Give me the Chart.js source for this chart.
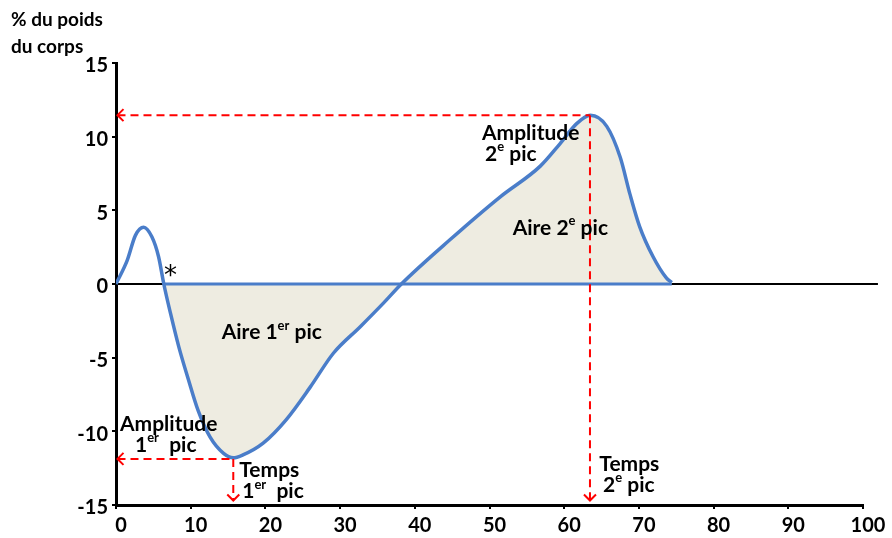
<!DOCTYPE html>
<html>
<head>
<meta charset="utf-8">
<script src="https://cdn.jsdelivr.net/npm/chart.js@4"></script>
<style>
  html, body { margin: 0; padding: 0; background: #ffffff; }
  #wrap { width: 892px; height: 538px; }
</style>
</head>
<body>
<div id="wrap"><canvas id="c" width="892" height="538"></canvas></div>
<script>
// ---- data ----
const curveX = [0, 1.5, 2.6, 3.7, 4.8, 5.7, 6.4, 7.3, 8.4, 9.7, 11.0, 12.6, 14.4, 15.7, 17.0, 19.7, 22.8, 26.0, 29.1, 32.7, 35.8, 38.2, 44.7, 51.4, 56.8, 59.4, 61.7, 63.5, 65.7, 67.5, 68.8, 70.1, 71.9, 73.7, 74.4];
const curveY = [0, 1.6, 3.3, 3.85, 3.2, 1.85, 0, -2.0, -4.25, -6.5, -8.6, -10.4, -11.5, -11.8, -11.6, -10.8, -9.2, -7.0, -4.7, -2.9, -1.3, 0, 3.0, 5.9, 8.0, 9.5, 10.9, 11.45, 10.7, 8.6, 6.1, 3.9, 1.85, 0.4, 0.1];
const areaStart = 6.4;            // end of first (unfilled) bump
const areaEnd = 74.4;             // end of signal
const peakTimes = [15.7, 63.45];  // time of 1st / 2nd peak
const peakAmps = [-11.87, 11.46]; // amplitude of 1st / 2nd peak
const xTicks = [0, 10, 20, 30, 40, 50, 60, 70, 80, 90, 100];
const yTicks = [-15, -10, -5, 0, 5, 10, 15];
const yTitle = ['% du poids', 'du corps'];
const labels = [
  { lines: [[['Aire 1', ''], ['er', 'sup'], [' pic', '']]] },
  { lines: [[['Amplitude', '']], [['1', ''], ['er', 'sup'], ['  pic', '']]] },
  { lines: [[['Temps', '']], [['1', ''], ['er', 'sup'], ['  pic', '']]] },
  { lines: [[['Amplitude', '']], [['2', ''], ['e', 'sup'], [' pic', '']]] },
  { lines: [[['Aire 2', ''], ['e', 'sup'], [' pic', '']]] },
  { lines: [[['Temps', '']], [['2', ''], ['e', 'sup'], [' pic', '']]] }
];

// ---- derived datasets ----
const curvePts = curveX.map((x, i) => ({ x: x, y: curveY[i] }));
const areaPts = curvePts.filter(p => p.x >= areaStart);

// label anchor positions (data coords: left x, first-line centre y, 2nd-line indent) — layout only
const labelPos = [
  [14.15, -3.3, 0],
  [0.54, -9.5, 2.0],
  [16.5, -12.65, 0.4],
  [49.0, 10.25, 0.4],
  [53.1, 3.8, 0],
  [64.7, -12.2, 0.5]
];

const FONT = 'Lato, "Open Sans", sans-serif';
const RED = '#ff0000';
const BLUE = '#4a7dc9';

function drawRich(ctx, parts, x, y, size) {
  let cx = x;
  parts.forEach(([t, kind]) => {
    if (kind === 'sup') {
      ctx.font = 'bold ' + Math.round(size * 0.62) + 'px ' + FONT;
      ctx.fillText(t, cx, y - size * 0.33);
    } else {
      ctx.font = 'bold ' + size + 'px ' + FONT;
      ctx.fillText(t, cx, y);
    }
    cx += ctx.measureText(t).width;
  });
}

const overlay = {
  id: 'overlay',
  beforeDatasetsDraw(chart) {
    const { ctx, scales: { x, y } } = chart;
    ctx.save();
    ctx.strokeStyle = '#000';
    ctx.lineWidth = 2;
    ctx.beginPath();
    ctx.moveTo(x.getPixelForValue(0), y.getPixelForValue(0));
    ctx.lineTo(x.getPixelForValue(102), y.getPixelForValue(0));
    ctx.stroke();
    ctx.restore();
  },
  afterDatasetsDraw(chart) {
    const { ctx, scales: { x, y } } = chart;
    ctx.save();
    ctx.strokeStyle = RED;
    ctx.lineWidth = 2;
    const s = 6;
    peakAmps.forEach(a => {
      const px = x.getPixelForValue(0.2), py = y.getPixelForValue(a);
      ctx.beginPath();
      ctx.moveTo(px + s, py - s); ctx.lineTo(px, py); ctx.lineTo(px + s, py + s);
      ctx.stroke();
    });
    peakTimes.forEach(t => {
      const px = x.getPixelForValue(t), py = y.getPixelForValue(-14.7);
      ctx.beginPath();
      ctx.moveTo(px - s, py - s); ctx.lineTo(px, py); ctx.lineTo(px + s, py - s);
      ctx.stroke();
    });
    ctx.fillStyle = '#000';
    ctx.textBaseline = 'middle';
    ctx.textAlign = 'left';
    const size = 21;
    labels.forEach((lab, i) => {
      const [lx, ly, indent] = labelPos[i];
      const px = x.getPixelForValue(lx);
      const py = y.getPixelForValue(ly);
      lab.lines.forEach((parts, j) => {
        drawRich(ctx, parts, px + (j > 0 ? indent * 7.47 : 0), py + j * 21, size);
      });
    });
    // asterisk
    ctx.font = '26px "DejaVu Sans", sans-serif';
    ctx.textAlign = 'center';
    ctx.textBaseline = 'alphabetic';
    ctx.fillText('*', x.getPixelForValue(7.3), y.getPixelForValue(0.83) + 12);
    // y title
    ctx.font = 'bold 19px ' + FONT;
    ctx.textAlign = 'left';
    ctx.textBaseline = 'middle';
    ctx.fillText(yTitle[0], 11, 20);
    ctx.fillText(yTitle[1], 11, 47);
    ctx.restore();
  }
};

new Chart(document.getElementById('c'), {
  type: 'line',
  data: {
    datasets: [
      ...peakTimes.map((t, i) => ({
        data: [{ x: 0.2, y: peakAmps[i] }, { x: t, y: peakAmps[i] }],
        borderColor: RED, borderWidth: 2, borderDash: [8, 5], pointRadius: 0, fill: false, order: 0
      })),
      ...peakTimes.map((t, i) => ({
        data: [{ x: t, y: peakAmps[i] }, { x: t, y: -14.7 }],
        borderColor: RED, borderWidth: 2, borderDash: [8, 5], pointRadius: 0, fill: false, order: 0
      })),
      {
        data: curvePts, borderColor: BLUE, borderWidth: 3.5, pointRadius: 0,
        cubicInterpolationMode: 'monotone', fill: false, order: 1
      },
      {
        data: [{ x: areaStart, y: 0 }, { x: areaEnd, y: 0 }], borderColor: BLUE, borderWidth: 3,
        pointRadius: 0, fill: false, order: 2
      },
      {
        data: areaPts, borderColor: 'rgba(0,0,0,0)', borderWidth: 0, pointRadius: 0,
        cubicInterpolationMode: 'monotone', fill: 'origin', backgroundColor: '#eeece1', order: 3
      }
    ]
  },
  options: {
    responsive: false,
    animation: false,
    layout: { padding: { top: 63, right: 29, left: 0, bottom: 0 } },
    plugins: { legend: { display: false }, tooltip: { enabled: false } },
    scales: {
      x: {
        type: 'linear', min: 0, max: 100,
        afterBuildTicks: s => { s.ticks = xTicks.map(v => ({ value: v })); },
        afterFit: s => { s.height = 33; },
        border: { color: '#000', width: 3 },
        grid: { drawOnChartArea: false, drawTicks: true, tickLength: 4, color: '#000', lineWidth: 2 },
        ticks: { color: '#000', font: { family: FONT, size: 20, weight: 'bold' }, padding: 5, labelOffset: 5, maxRotation: 0 }
      },
      y: {
        type: 'linear', min: -15, max: 15,
        afterBuildTicks: s => { s.ticks = yTicks.map(v => ({ value: v })); },
        afterFit: s => { s.width = 116; },
        border: { color: '#000', width: 3 },
        grid: { drawOnChartArea: false, drawTicks: true, tickLength: 4, color: '#000', lineWidth: 2 },
        ticks: { color: '#000', font: { family: FONT, size: 20, weight: 'bold' }, padding: 4, labelOffset: 3 }
      }
    }
  },
  plugins: [overlay]
});
</script>
</body>
</html>
